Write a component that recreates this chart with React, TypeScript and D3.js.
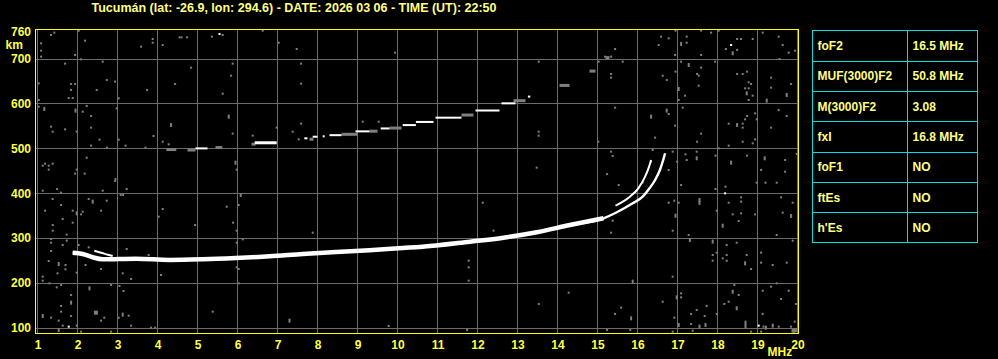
import React from "react";
import * as d3 from "d3";

const TITLE = "Tucumán (lat: -26.9, lon: 294.6) - DATE: 2026 03 06 - TIME (UT): 22:50";
const freqTicks = [1, 2, 3, 4, 5, 6, 7, 8, 9, 10, 11, 12, 13, 14, 15, 16, 17, 18, 19, 20];
const heightTicks = [100, 200, 300, 400, 500, 600, 700];
const topHeight = 760;

const paramNames = ["foF2", "MUF(3000)F2", "M(3000)F2", "fxI", "foF1", "ftEs", "h'Es"];
const paramValues = ["16.5 MHz", "50.8 MHz", "3.08", "16.8 MHz", "NO", "NO", "NO"];

// F2 trace [MHz, km]
const mainTrace: [number, number][] = [
  [1.88, 266.9], [2.13, 264], [2.38, 256.6], [2.63, 252.1], [3.46, 253.5], [4.3, 250.6],
  [5.13, 252.1], [5.96, 255], [6.8, 258.8], [7.63, 264], [8.46, 268.4], [9.3, 272.2],
  [10.13, 277.3], [10.56, 279.6], [11.81, 291.4], [12.65, 300.3], [13.48, 312.4],
  [14.31, 328.6], [15.15, 343.6], [15.46, 356], [15.88, 377], [16.13, 391.8],
  [16.3, 410.5], [16.44, 429], [16.56, 451.3], [16.63, 469.8], [16.69, 488.6],
];
const cuspTrace: [number, number][] = [
  [15.45, 372], [15.56, 377], [15.81, 391.8], [16.02, 410.5], [16.19, 436.4], [16.29, 458.7], [16.34, 473.6],
];
const startTrace: [number, number][] = [
  [2.42, 271], [2.59, 266.8], [2.76, 262.4], [2.88, 259.5],
];
// second hop echo: [fStart, fEnd, km]
const hopWhite: [number, number, number][] = [
  [4.95, 5.25, 499.5], [7.67, 7.75, 522], [7.88, 8.0, 525.5], [8.13, 8.17, 526.5],
  [8.3, 8.6, 529], [8.95, 9.3, 537.5], [9.58, 9.8, 544], [10.13, 10.46, 551.5],
  [10.46, 10.9, 558.5], [10.95, 11.6, 568], [11.95, 12.55, 584], [12.6, 12.95, 600],
  [13.26, 13.32, 615],
];
const hopBright: [number, number, number][] = [[6.43, 6.98, 512]];
const hopGray: [number, number, number][] = [
  [4.22, 4.47, 498], [4.75, 4.95, 497], [5.45, 5.62, 502.5], [6.35, 6.45, 510], [7.8, 7.9, 521],
  [8.6, 9.0, 532], [9.3, 9.5, 539], [9.8, 10.1, 546], [11.6, 11.9, 575], [12.9, 13.2, 607],
  [14.05, 14.3, 641], [14.8, 14.95, 673], [15.2, 15.3, 703],
];

// scattered noise [MHz, km]
const noiseDots: [number, number][] = [
  [1.34, 752.4], [1.42, 757.7], [2.03, 762], [2.19, 739.8], [1.09, 733.9], [1.09, 717.5], [1.09, 704.1],
  [1.94, 707.8], [2.09, 698.2], [1.69, 688.5], [2.63, 693], [2.73, 652], [2.94, 648.4], [2.48, 629.8],
  [1.84, 643.2], [1.94, 643.2], [1.84, 629.8], [1.78, 611.9], [1.88, 611.9], [1.03, 607.5], [1.03, 592.6],
  [2.13, 581.4], [2.23, 594.1], [2.34, 571.8], [2.98, 588.9], [3.03, 611.2], [1.03, 644.6], [3.88, 743.5],
  [3.88, 735.3], [3.59, 726.4], [4.13, 730.1], [4.55, 747.2], [4.6, 747.2], [4.74, 747.2], [5.36, 748.7],
  [5.63, 752.4], [6.63, 762.1], [7.03, 735.3], [7.48, 721.2], [9.94, 713], [5.88, 688.5], [4.84, 679.6],
  [5.84, 661.7], [4.44, 643.2], [3.74, 629.8], [5.63, 621.6], [7.59, 688.5], [7.59, 643.9], [5.88, 532.4],
  [1.34, 548], [1.38, 536.8], [1.69, 542], [2.34, 545.8], [1.98, 536.8], [2.55, 519], [3.03, 519],
  [3.9, 527.2], [4.13, 514.5], [4.28, 508.6], [2.34, 505.6], [2.74, 501.1], [3.2, 505.6], [3.7, 501.1],
  [6.38, 527.9], [6.98, 545.8], [7.59, 554.7], [7.38, 536.8], [7.53, 519.7], [9.13, 559.1], [9.53, 559.1],
  [2.23, 478.8], [1.13, 461], [1.19, 465.5], [1.28, 461], [1.38, 465.5], [1.28, 452.1], [1.94, 443.2],
  [2.18, 443.2], [1.98, 452.1], [2.95, 431.3], [5.98, 452.1],
  [16.95, 762.1], [16.59, 748.7], [16.78, 745], [17.23, 748.7], [17.59, 762.1], [17.84, 757.7],
  [18.03, 762.1], [18.49, 743.5], [18.59, 743.5], [18.88, 743.5], [19.13, 757.7], [19.53, 748.7],
  [16.53, 730.1], [17.23, 735.3], [16.94, 707.8], [17.59, 707.8], [18.21, 721.2], [18.49, 719],
  [19.63, 730.1], [19.78, 713], [19.94, 717.5], [19.55, 698.9], [15.44, 721.2], [15.19, 704.1],
  [15.34, 704.1], [15.63, 693], [15.03, 693], [13.53, 693], [17.09, 693], [17.59, 679.6], [17.94, 693],
  [15.34, 665.5], [15.34, 657.3], [16.63, 661.7], [16.73, 652], [16.95, 670.7], [17.49, 665.5],
  [17.53, 661.7], [18.49, 665.5], [18.63, 665.5], [18.74, 670.7], [18.78, 646.9], [18.84, 643.2],
  [18.69, 633.5], [18.78, 633.5], [18.88, 617.1], [18.78, 607.5], [19.34, 657.3], [19.34, 635],
  [19.84, 643.2], [17.53, 639.4], [17.19, 617.1], [17.03, 607.5], [17.13, 590.4], [15.44, 590.4],
  [16.78, 576.2], [16.94, 550.2], [16.44, 523.5], [17.59, 532.4], [17.49, 514.5], [18.28, 554.7],
  [18.63, 554.7], [18.63, 545.8], [18.69, 564.3], [18.74, 571.8], [18.94, 577.7], [18.98, 564.3],
  [19.34, 545.8], [19.73, 571.8], [19.53, 585.2], [18.94, 519.7], [18.88, 510.8], [18.63, 514.5],
  [18.28, 505.6], [18.03, 499.7], [15.02, 514.5], [13.53, 536.8], [13.53, 527.9], [16.38, 496],
  [16.88, 492.2], [17.2, 486.3], [17.23, 473.6], [17.48, 492.2], [17.95, 483.3], [18.74, 483.3],
  [19.69, 473.6], [19.09, 451.3], [19.69, 447.6], [16.78, 451.3], [16.99, 469.9], [16.34, 469.9],
  [15.34, 492.2], [15.38, 482.6], [15.24, 442.4], [13.48, 456.5], [19.98, 487],
  [1.13, 405.2], [1.49, 408.9], [1.59, 400.7], [1.38, 386.6], [1.59, 373.2], [2.28, 386.6],
  [2.73, 382.9], [2.63, 405.2], [2.94, 426.8], [3.23, 408.9], [3.08, 395.5], [3.14, 395.5], [1.19, 360.6],
  [1.88, 360.6], [2.13, 358.4], [2.09, 352.4], [2.59, 360.6], [1.63, 342], [1.88, 333.8], [1.38, 328.6],
  [1.38, 316], [1.73, 307.1], [1.34, 297.4], [1.34, 289.2], [1.73, 293.7], [1.63, 284], [2.03, 284],
  [2.28, 278.8], [1.34, 270.6], [1.28, 248.3], [1.7, 239.4], [1.7, 229.7], [1.98, 222.3], [2.2, 239.4],
  [2.59, 230.5], [1.5, 220.8], [1.13, 213.4], [1.13, 204.5], [1.3, 198.5], [1.59, 194.8], [1.48, 189.6],
  [2.84, 194.8], [3.05, 192.6], [3.15, 181.4], [1.84, 172.5], [1.59, 148], [3.34, 208.2], [3.13, 220.8],
  [4.09, 217.1], [4.03, 347.2], [4.13, 364.3], [4.94, 328.6], [5.73, 369.5], [6.03, 373.2], [5.89, 333.8],
  [5.98, 316], [5.98, 289.2], [6.13, 296.6], [5.98, 234.2], [6.03, 230.5], [6.03, 198.5], [7.88, 311.5],
  [3.23, 275.1], [3.78, 261.7], [5.38, 135.3], [9.78, 103.4], [1.34, 121.9], [1.53, 115.3], [1.84, 125.7],
  [1.59, 135.3], [2.67, 121.9], [2.59, 115.3], [3.03, 121.9], [3.28, 126.4], [3.34, 104.1], [3.84, 99.6],
  [3.94, 99.6], [1.63, 104.1], [1.98, 104.1], [2.09, 90.7], [2.84, 90.7],
  [12.13, 378.4], [12.4, 316], [15.53, 417.8], [16.13, 423.8], [17.09, 417.8], [17.95, 408.9],
  [18.2, 414.1], [18.98, 423], [19.2, 423], [19.48, 423], [16.78, 378.4], [16.92, 382.9], [17.03, 378.4],
  [18.28, 378.4], [18.59, 390.3], [18.59, 380.7], [18.94, 352.4], [18.38, 352.4], [18.59, 354.6],
  [19.59, 390.3], [19.88, 378.4], [19.63, 356.1], [17.98, 360.6], [18.53, 337.5], [16.88, 316],
  [15.34, 311.5], [15.38, 338.3], [17.28, 306.3], [18.23, 284], [18.48, 289.2], [19.48, 306.3],
  [19.88, 293.7], [17.88, 261.7], [17.88, 249.1], [18.13, 254.3], [18.23, 249.1], [18.23, 261.7],
  [17.98, 266.9], [18.73, 261.7], [18.84, 230.5], [19.09, 266.9], [19.09, 244.6], [19.38, 239.4],
  [19.73, 244.6], [19.48, 198.5], [19.34, 191.1], [19.78, 182.1], [19.59, 163.6], [19.96, 152.4],
  [11.78, 249.1], [11.78, 234.2], [11.78, 204.5], [16.88, 213.4], [18.42, 194.8], [18.53, 172.5],
  [18.28, 157.6], [18.17, 152.4], [19.13, 182.1], [17.98, 130.1], [17.73, 147.9], [17.68, 125.7],
  [17.48, 139], [17.34, 130.1], [17.09, 176.2], [17.09, 167.3], [16.63, 157.6], [16.92, 121.9],
  [17.34, 107.8], [17.38, 92.9], [16.88, 90.7], [15.59, 144.2], [15.44, 130.1], [15.82, 94.4],
  [15.24, 94.4], [14.28, 177.7], [13.53, 152.4], [11.74, 94.4], [19.15, 101.9], [19.53, 101.9],
  [19.13, 130.1], [18.84, 90.7], [19.09, 90.7], [19.84, 101.9], [19.93, 113.1], [19.9, 90.7],
];
const noiseStreaks: [number, number][] = [
  [1.17, 587.4], [1.95, 583.7], [5.78, 570.3], [4.34, 551.7], [5.95, 467.7], [17.09, 732.4],
  [18.38, 711.6], [17.28, 685.5], [18.73, 622.3], [19.23, 606], [19.73, 618.6], [17.03, 632],
  [16.34, 570.3], [16.73, 583.7], [18.49, 551.7], [17.48, 477.4], [19.18, 477.4], [18.34, 467.7],
  [2.38, 380.7], [1.98, 354.6], [1.53, 241.6], [2.3, 187.4], [1.84, 155.4], [6.08, 395.5], [7.3, 115.3],
  [1.13, 125.7], [3.13, 128.6], [1.53, 94.4], [17.55, 384.4], [17.55, 378], [16.95, 349.4],
  [18.13, 327.1], [17.31, 295.2], [17.88, 291.5], [18.69, 243.1], [15.88, 202.2], [18.38, 179.9],
  [18.48, 142.8], [16.98, 167.3], [17.03, 105.6], [17.55, 101.9], [17.7, 105.6], [15.84, 120.4],
  [18.7, 110.8], [18.7, 103], [19.38, 104.1], [19.21, 99.6], [19.84, 348.7], [19.96, 94],
];
const noiseBlocks: [number, number][] = [[2.46, 133.1], [19.9, 93]];
const noiseBright: [number, number][] = [[5.55, 754.7], [18.34, 730.1], [18.19, 399.3], [1.78, 101.9], [19.03, 104.1]];

const W = 998;
const H = 359;
const FRAME = { left: 35.5, top: 29.5, right: 798.5, bottom: 333.5 };
const TABLE = { left: 812.5, top: 30.5, right: 977.5, bottom: 242.5, split: 907.5 };
const FONT = "'Liberation Sans', Arial, sans-serif";
const TXT = "#ffff80";
const AXTXT = "#ffff40";
const GRID = "#6b6b6b";
const DOT = "#7f7f7f";

export default function App() {
  const x = d3.scaleLinear().domain([1, 20]).range([37.5, 797.5]);
  const y = d3.scaleLinear().domain([100, 700]).range([327.5, 58.5]);
  const line = d3
    .line<[number, number]>()
    .x((d) => x(d[0]))
    .y((d) => y(d[1]))
    .curve(d3.curveMonotoneX);

  const thickPart = mainTrace.filter((d) => d[0] <= 15.15);
  const rowH = (TABLE.bottom - TABLE.top) / paramNames.length;

  return (
    <svg
      width={W}
      height={H}
      style={{ position: "fixed", left: 0, top: 0, background: "#000", display: "block" }}
      fontFamily={FONT}
      fontWeight="bold"
    >
      <rect x={0} y={0} width={W} height={H} fill="#000" />
      <text x={91.5} y={11.5} fontSize={12} fill={TXT} textLength={405} lengthAdjust="spacingAndGlyphs">
        {TITLE}
      </text>

      {/* grid */}
      {freqTicks.map((f) => (
        <line key={"gv" + f} x1={x(f)} x2={x(f)} y1={FRAME.top} y2={FRAME.bottom} stroke={GRID} strokeWidth={1} />
      ))}
      {heightTicks.map((h) => (
        <line key={"gh" + h} x1={FRAME.left} x2={FRAME.right} y1={Math.round(y(h)) + 0.5} y2={Math.round(y(h)) + 0.5} stroke={GRID} strokeWidth={1} />
      ))}

      {/* noise */}
      {noiseDots.map((d, i) => (
        <rect key={"n" + i} x={x(d[0]) - 1} y={y(d[1]) - 1} width={2} height={2} fill={DOT} />
      ))}
      {noiseStreaks.map((d, i) => (
        <rect key={"s" + i} x={x(d[0]) - 1} y={y(d[1]) - 2} width={2} height={4} fill={DOT} />
      ))}
      {noiseBlocks.map((d, i) => (
        <rect key={"b" + i} x={x(d[0]) - 2} y={y(d[1]) - 2} width={4} height={4} fill={DOT} />
      ))}
      {noiseBright.map((d, i) => (
        <rect key={"w" + i} x={x(d[0]) - 1} y={y(d[1]) - 1} width={2} height={2} fill="#fff" />
      ))}

      {/* second hop echo */}
      {hopGray.map((d, i) => (
        <rect key={"hg" + i} x={x(d[0])} y={y(d[2]) - 1} width={Math.max(2, x(d[1]) - x(d[0]))} height={3} fill={DOT} />
      ))}
      {hopWhite.map((d, i) => (
        <rect key={"hw" + i} x={x(d[0])} y={y(d[2]) - 1} width={Math.max(2, x(d[1]) - x(d[0]))} height={2} fill="#fff" />
      ))}
      {hopBright.map((d, i) => (
        <rect key={"hb" + i} x={x(d[0])} y={y(d[2]) - 1.5} width={x(d[1]) - x(d[0])} height={3} fill="#fff" />
      ))}

      {/* F2 traces */}
      <path d={line(mainTrace) || ""} fill="none" stroke="#fff" strokeWidth={2.4} />
      <path d={line(thickPart) || ""} fill="none" stroke="#fff" strokeWidth={4.5} />
      <path d={line(cuspTrace) || ""} fill="none" stroke="#fff" strokeWidth={2} />
      <path d={line(startTrace) || ""} fill="none" stroke="#fff" strokeWidth={2} />

      {/* frame */}
      <rect
        x={FRAME.left}
        y={FRAME.top}
        width={FRAME.right - FRAME.left}
        height={FRAME.bottom - FRAME.top}
        fill="none"
        stroke="#ffff00"
        strokeWidth={1}
      />

      {/* axis labels */}
      {heightTicks.map((h) => (
        <text key={"yl" + h} x={31} y={y(h) + 4.5} fontSize={12} fill={AXTXT} textAnchor="end">
          {h}
        </text>
      ))}
      <text x={31} y={y(topHeight) + 4} fontSize={12} fill={AXTXT} textAnchor="end">
        {topHeight}
      </text>
      <text x={5.5} y={49} fontSize={12} fill={AXTXT}>
        km
      </text>
      {freqTicks.map((f) => (
        <text key={"xl" + f} x={x(f) + 0.5} y={348.5} fontSize={12} fill={AXTXT} textAnchor="middle">
          {f}
        </text>
      ))}
      <text x={767.5} y={356} fontSize={12} fill={AXTXT}>
        MHz
      </text>

      {/* parameter table */}
      <rect
        x={TABLE.left}
        y={TABLE.top}
        width={TABLE.right - TABLE.left}
        height={TABLE.bottom - TABLE.top}
        fill="none"
        stroke="#00e0e0"
        strokeWidth={1}
      />
      <line x1={TABLE.split} x2={TABLE.split} y1={TABLE.top} y2={TABLE.bottom} stroke="#00e0e0" strokeWidth={1} />
      {paramNames.map((n, i) => {
        const top = TABLE.top + i * rowH;
        return (
          <g key={"row" + i}>
            {i > 0 && (
              <line x1={TABLE.left} x2={TABLE.right} y1={Math.round(top) + 0.5} y2={Math.round(top) + 0.5} stroke="#00e0e0" strokeWidth={1} />
            )}
            <text x={817.5} y={top + rowH / 2 + 4.5} fontSize={12} fill={TXT}>
              {n}
            </text>
            <text x={912.5} y={top + rowH / 2 + 4.5} fontSize={12} fill={TXT}>
              {paramValues[i]}
            </text>
          </g>
        );
      })}
    </svg>
  );
}
